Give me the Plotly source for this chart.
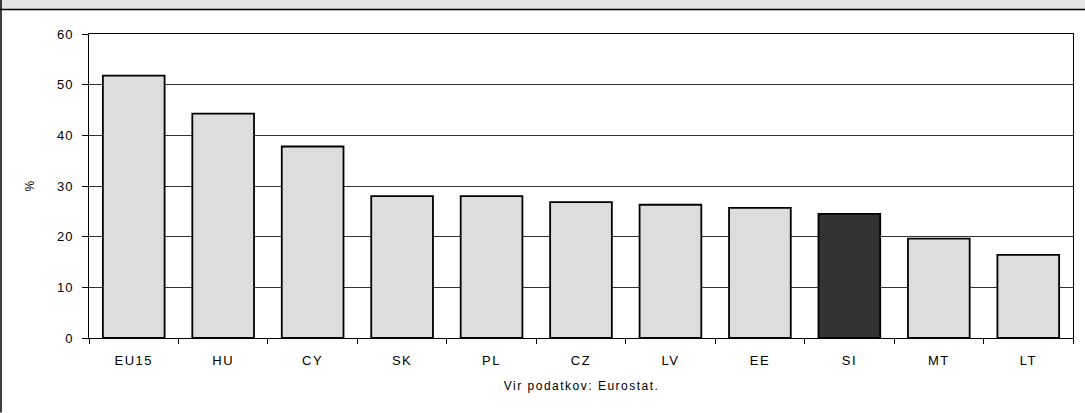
import plotly.graph_objects as go

countries = ['EU15', 'HU', 'CY', 'SK', 'PL', 'CZ', 'LV', 'EE', 'SI', 'MT', 'LT']
values = [51.8, 44.3, 37.8, 28.0, 28.0, 26.8, 26.3, 25.7, 24.5, 19.6, 16.4]
highlight = 'SI'

bar_colors = ['#333333' if c == highlight else '#dddddd' for c in countries]

W, H = 1085, 413
plot_l, plot_r, plot_t, plot_b = 89, 1073, 34, 338.5
pw = plot_r - plot_l
ph = plot_b - plot_t

def px_x(x):
    return (x - plot_l) / pw

def px_y(y):
    return 1 - (y - plot_t) / ph

fig = go.Figure(go.Bar(
    x=countries,
    y=values,
    marker=dict(color=bar_colors, line=dict(color='black', width=1.8)),
    hoverinfo='x+y',
))

fig.update_layout(
    width=W, height=H,
    margin=dict(l=plot_l, r=W - plot_r, t=plot_t, b=H - plot_b),
    paper_bgcolor='white',
    plot_bgcolor='white',
    bargap=0.31,
    showlegend=False,
    font=dict(family='Liberation Sans, Arial, sans-serif', size=13, color='black'),
    xaxis=dict(
        showline=True, linecolor='black', linewidth=1, mirror=True,
        ticks='outside', ticklen=5, tickcolor='black', tickson='boundaries',
        ticklabelstandoff=10,
        showgrid=False,
        fixedrange=True,
    ),
    yaxis=dict(
        range=[0, 60], dtick=10,
        showline=True, linecolor='black', linewidth=1, mirror=True,
        ticks='outside', ticklen=6, tickcolor='black',
        ticklabelstandoff=6,
        showgrid=True, gridcolor='#333333', gridwidth=1,
        zeroline=False,
        fixedrange=True,
    ),
    shapes=[
        # grey header strip (title cut off above)
        dict(type='rect', xref='paper', yref='paper',
             x0=px_x(0), x1=px_x(W), y0=px_y(9.5), y1=px_y(0),
             fillcolor='#e6e6e6', line=dict(width=0), layer='below'),
        dict(type='line', xref='paper', yref='paper',
             x0=px_x(0), x1=px_x(W), y0=px_y(9.5), y1=px_y(9.5),
             line=dict(color='black', width=1.5)),
        dict(type='line', xref='paper', yref='paper',
             x0=px_x(1), x1=px_x(1), y0=px_y(0), y1=px_y(H),
             line=dict(color='black', width=1.5)),
    ],
    annotations=[
        dict(text='%', xref='paper', yref='paper',
             x=px_x(30), y=px_y(186), xanchor='center', yanchor='middle',
             textangle=-90, showarrow=False, font=dict(size=12)),
        dict(text='Vir podatkov: Eurostat.', xref='paper', yref='paper',
             x=0.5, y=px_y(387), xanchor='center', yanchor='middle',
             showarrow=False, font=dict(size=12)),
    ],
)

# page has no body margin; Excel-like letter spacing on labels
post = """
document.body.style.margin = '0';
document.querySelectorAll('.xtick text, .annotation-text').forEach(function(t){
    t.style.letterSpacing = '1.5px';
});
document.querySelectorAll('.ytick text').forEach(function(t){
    t.style.letterSpacing = '1px';
});
"""

fig.write_html("out.html", post_script=post, config={'displayModeBar': False})
